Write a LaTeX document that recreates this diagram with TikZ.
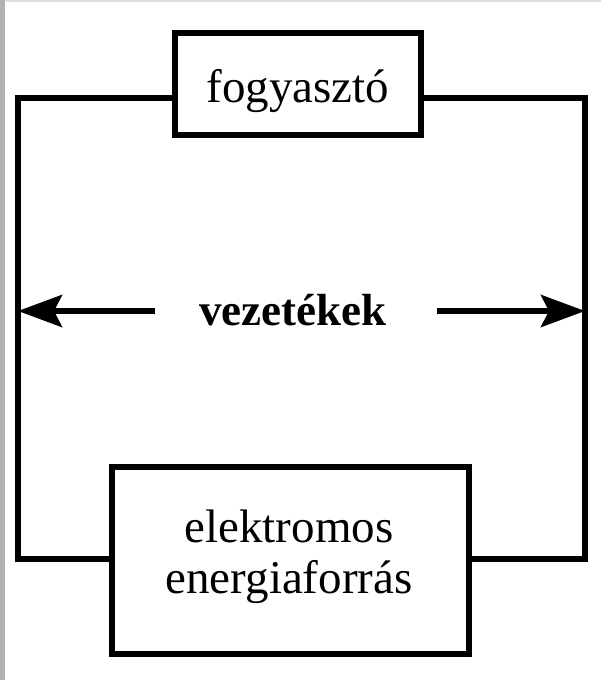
\documentclass[tikz,border=0pt]{standalone}
\usepackage{fontspec}
\setmainfont{Liberation Serif}
\usetikzlibrary{arrows.meta}

\begin{document}
\begin{tikzpicture}[x=0.5pt, y=-0.5pt,
    wire/.style={line width=2.6pt, line join=miter},
    unit/.style={draw, line width=2.6pt, inner sep=0pt},
    caption/.style={anchor=base, font=\fontsize{23.5}{27}\selectfont},
    pointer/.style={line width=3pt, -{Stealth[length=22pt, width=16pt, inset=4pt]}}]
      \useasboundingbox (0,0) rectangle (601,680);
      \fill[gray!60] (0,0) rectangle (5,680);
      \fill[gray!25] (5,0) rectangle (601,2);
      % the two units
      \node[unit, minimum width=123pt, minimum height=51pt]    (consumer) at (298,84)    {};
      \node[unit, minimum width=178.5pt, minimum height=93.5pt] (source)  at (290.5,560.5) {};
      \node[caption] (consumertext) at (298,102)   {fogyasztó};
      \node[caption] (sourcetop)    at (289,542) {elektromos};
      \node[caption] (sourcebottom) at (289,593) {energiaforrás};
      % the loop
      \coordinate (topleft)     at (18,98);  \coordinate (topright)    at (585,98);
      \coordinate (bottomleft)  at (18,559); \coordinate (bottomright) at (585,559);
      \draw[wire] (consumer.west |- topleft) -- (topleft) -- (bottomleft) -- (source.west |- bottomleft);
      \draw[wire] (consumer.east |- topright) -- (topright) -- (bottomright) -- (source.east |- bottomright);
      % label of the wires
      \node[caption, font=\bfseries\fontsize{22.5}{27}\selectfont] (wires) at (293,325) {vezetékek};
      \coordinate (lefttail)  at (155,311);
      \coordinate (righttail) at (437,311);
      \draw[pointer] (lefttail)  -- (topleft |- lefttail);
      \draw[pointer] (righttail) -- (topright |- righttail);
    \end{tikzpicture}
\end{document}
